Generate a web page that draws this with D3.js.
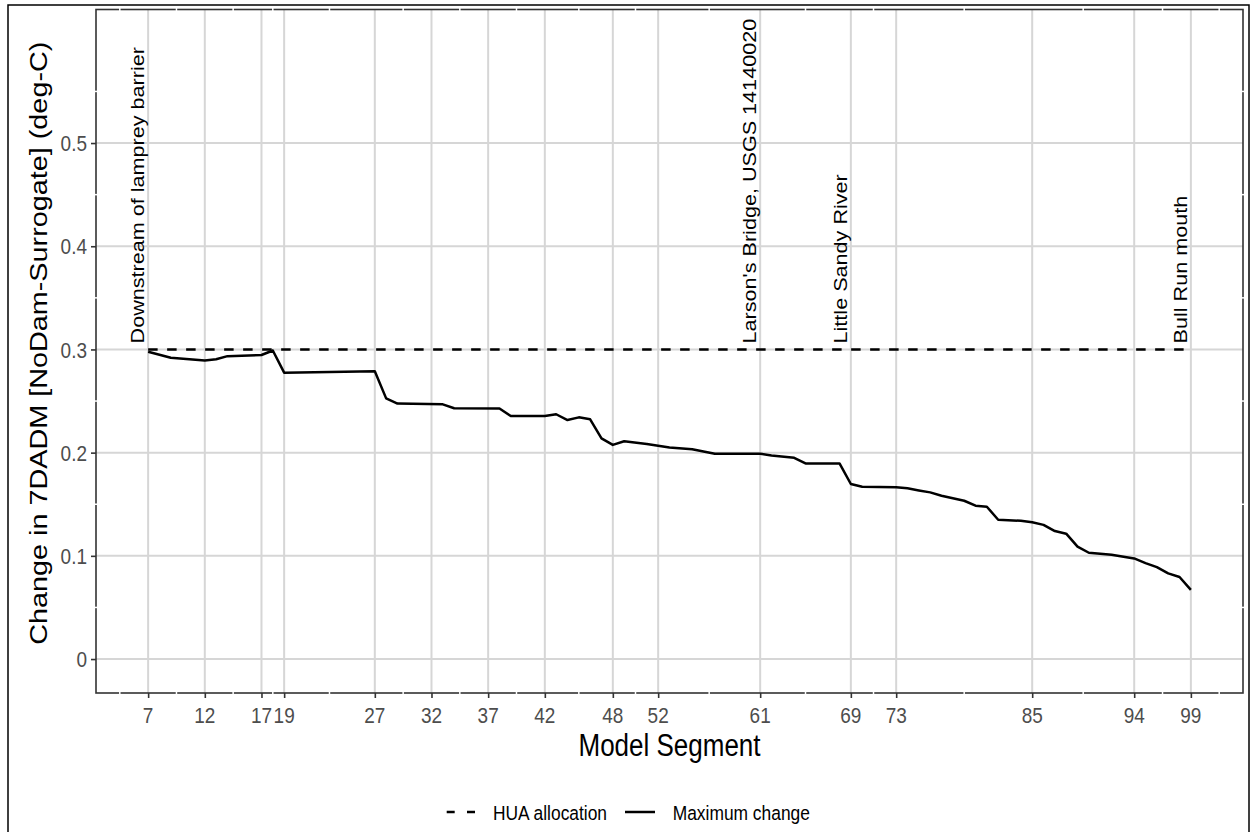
<!DOCTYPE html>
<html>
<head>
<meta charset="utf-8">
<script src="https://cdn.jsdelivr.net/npm/d3@7"></script>
<style>
  html, body { margin: 0; padding: 0; background: #fff; }
  svg { display: block; font-family: "Liberation Sans", Arial, sans-serif; }
</style>
</head>
<body>
<svg id="chart" width="1255" height="832"></svg>
<script>
// ---- data ----
const segments = [7, 9, 12, 13, 14, 17, 18, 19, 27, 28, 29, 33, 34, 38, 39, 42, 43, 44, 45, 46, 47, 48, 49, 51, 53, 55, 57, 61, 62, 64, 65, 68, 69, 70, 73, 74, 75, 76, 77, 79, 80, 81, 82, 84, 85, 86, 87, 88, 89, 90, 92, 94, 95, 96, 97, 98, 99];
const maxChange = [0.2978, 0.2920, 0.2894, 0.2905, 0.2935, 0.2946, 0.2990, 0.2775, 0.2788, 0.2526, 0.2475, 0.2468, 0.2430, 0.2428, 0.2355, 0.2355, 0.2372, 0.2316, 0.2342, 0.2323, 0.2139, 0.2075, 0.2110, 0.2083, 0.2050, 0.2032, 0.1990, 0.1990, 0.1973, 0.1950, 0.1896, 0.1896, 0.1696, 0.1670, 0.1664, 0.1654, 0.1634, 0.1615, 0.1583, 0.1534, 0.1486, 0.1476, 0.1350, 0.1340, 0.1325, 0.1300, 0.1240, 0.1215, 0.1090, 0.1030, 0.1010, 0.0975, 0.0930, 0.0890, 0.0830, 0.0795, 0.0670];
const huaSegments = [7, 99];
const huaValues = [0.3, 0.3];
const xTicks = [7, 12, 17, 19, 27, 32, 37, 42, 48, 52, 61, 69, 73, 85, 94, 99];
const yTicks = [0, 0.1, 0.2, 0.3, 0.4, 0.5];
const siteSegments = [7, 61, 69, 99];
const siteLabels = ["Downstream of lamprey barrier", "Larson's Bridge, USGS 14140020", "Little Sandy River", "Bull Run mouth"];
const legendLabels = ["HUA allocation", "Maximum change"];
const xTitle = "Model Segment";
const yTitle = "Change in 7DADM [NoDam-Surrogate] (deg-C)";

// ---- layout ----
const K = 1.2; // vertical stretch of text
const P = { left: 96, right: 1243, top: 9.5, bottom: 693 };
const svg = d3.select("#chart");

const x = d3.scaleLinear().domain([2.4, 103.6]).range([P.left, P.right]);
const y = d3.scaleLinear().domain([-0.0329, 0.6294]).range([P.bottom, P.top]);

// outer frame
svg.append("rect").attr("x", 8).attr("y", 5).attr("width", 1241).attr("height", 840)
  .attr("fill", "none").attr("stroke", "#000").attr("stroke-width", 1.5);

const gridColor = "#d6d6d6";
// grid
svg.append("g").selectAll("line").data(xTicks).join("line")
  .attr("x1", d => x(d)).attr("x2", d => x(d)).attr("y1", P.top).attr("y2", P.bottom)
  .attr("stroke", gridColor).attr("stroke-width", 2);
svg.append("g").selectAll("line").data(yTicks).join("line")
  .attr("y1", d => y(d)).attr("y2", d => y(d)).attr("x1", P.left).attr("x2", P.right)
  .attr("stroke", gridColor).attr("stroke-width", 2);

// lines
const lineGen = d3.line().x(d => x(d[0])).y(d => y(d[1]));
svg.append("path").datum(d3.zip(huaSegments, huaValues))
  .attr("d", lineGen).attr("fill", "none").attr("stroke", "#000")
  .attr("stroke-width", 2.5).attr("stroke-dasharray", "9.5,9.5");
svg.append("path").datum(d3.zip(segments, maxChange))
  .attr("d", lineGen).attr("fill", "none").attr("stroke", "#000")
  .attr("stroke-width", 2.5).attr("stroke-linejoin", "round");

// text helper with vertical stretch
function stext(parent, tx, ty, str, size, opts = {}) {
  const rot = opts.rotate ? " rotate(-90)" : "";
  return parent.append("text")
    .attr("transform", `translate(${tx},${ty}) scale(1,${K})${rot}`)
    .attr("font-size", size)
    .attr("text-anchor", opts.anchor || "start")
    .attr("fill", opts.fill || "#000")
    .text(str);
}

// site labels
const annFs = 18;
siteSegments.forEach((s, i) => {
  stext(svg, x(s) - annFs * 0.21, y(0.3) - 6, siteLabels[i], annFs, { rotate: true });
});

// border
svg.append("rect").attr("x", P.left).attr("y", P.top)
  .attr("width", P.right - P.left).attr("height", P.bottom - P.top)
  .attr("fill", "none").attr("stroke", "#333").attr("stroke-width", 1.6);

// minor break gaps on border
const xMinor = [];
const xExt = [2].concat(xTicks).concat([104]);
for (let i = 0; i < xExt.length - 1; i++) xMinor.push((xExt[i] + xExt[i + 1]) / 2);
const yMinor = d3.range(0.05, 0.56, 0.1);
svg.append("g").selectAll("line").data(xMinor).join("line")
  .attr("x1", d => x(d)).attr("x2", d => x(d)).attr("y1", P.top - 2).attr("y2", P.top + 2)
  .attr("stroke", "#fff").attr("stroke-width", 1.5);
svg.append("g").selectAll("line").data(xMinor).join("line")
  .attr("x1", d => x(d)).attr("x2", d => x(d)).attr("y1", P.bottom - 2).attr("y2", P.bottom + 2)
  .attr("stroke", "#fff").attr("stroke-width", 1.5);
svg.append("g").selectAll("line").data(yMinor).join("line")
  .attr("y1", d => y(d)).attr("y2", d => y(d)).attr("x1", P.left - 2).attr("x2", P.left + 2)
  .attr("stroke", "#fff").attr("stroke-width", 1.5);
svg.append("g").selectAll("line").data(yMinor).join("line")
  .attr("y1", d => y(d)).attr("y2", d => y(d)).attr("x1", P.right - 2).attr("x2", P.right + 2)
  .attr("stroke", "#fff").attr("stroke-width", 1.5);

// axes ticks
const tickColor = "#333";
const xAxis = d3.axisBottom(x).tickValues(xTicks).tickSize(5).tickFormat("");
const gx = svg.append("g").attr("transform", `translate(0,${P.bottom})`).call(xAxis);
gx.select(".domain").remove();
gx.selectAll(".tick line").attr("stroke", tickColor).attr("stroke-width", 1.6);
const yAxis = d3.axisLeft(y).tickValues(yTicks).tickSize(5).tickFormat("");
const gy = svg.append("g").attr("transform", `translate(${P.left},0)`).call(yAxis);
gy.select(".domain").remove();
gy.selectAll(".tick line").attr("stroke", tickColor).attr("stroke-width", 1.6);

// tick labels
const tickFs = 19;
const tickFill = "#4d4d4d";
xTicks.forEach(t => stext(svg, x(t), 723, String(t), tickFs, { anchor: "middle", fill: tickFill }));
const yFmt = d => d === 0 ? "0" : d3.format(".1f")(d);
yTicks.forEach(t => stext(svg, 87, y(t) + tickFs * 0.36 * K, yFmt(t), tickFs, { anchor: "end", fill: tickFill }));

// axis titles
stext(svg, (P.left + P.right) / 2, 756, xTitle, 26, { anchor: "middle" });
stext(svg, 47, (P.top + P.bottom) / 2 - 8, yTitle, 24, { anchor: "middle", rotate: true });

// legend
const legFs = 17.4;
const legY = 812;
const lg = svg.append("g");
lg.append("line").attr("x1", 446.7).attr("x2", 475).attr("y1", legY).attr("y2", legY)
  .attr("stroke", "#000").attr("stroke-width", 2.5).attr("stroke-dasharray", "8,12.3");
stext(lg, 493, legY + legFs * 0.36 * K, legendLabels[0], legFs);
lg.append("line").attr("x1", 625).attr("x2", 655).attr("y1", legY).attr("y2", legY)
  .attr("stroke", "#000").attr("stroke-width", 2.5);
stext(lg, 672.7, legY + legFs * 0.36 * K, legendLabels[1], legFs);
</script>
</body>
</html>
